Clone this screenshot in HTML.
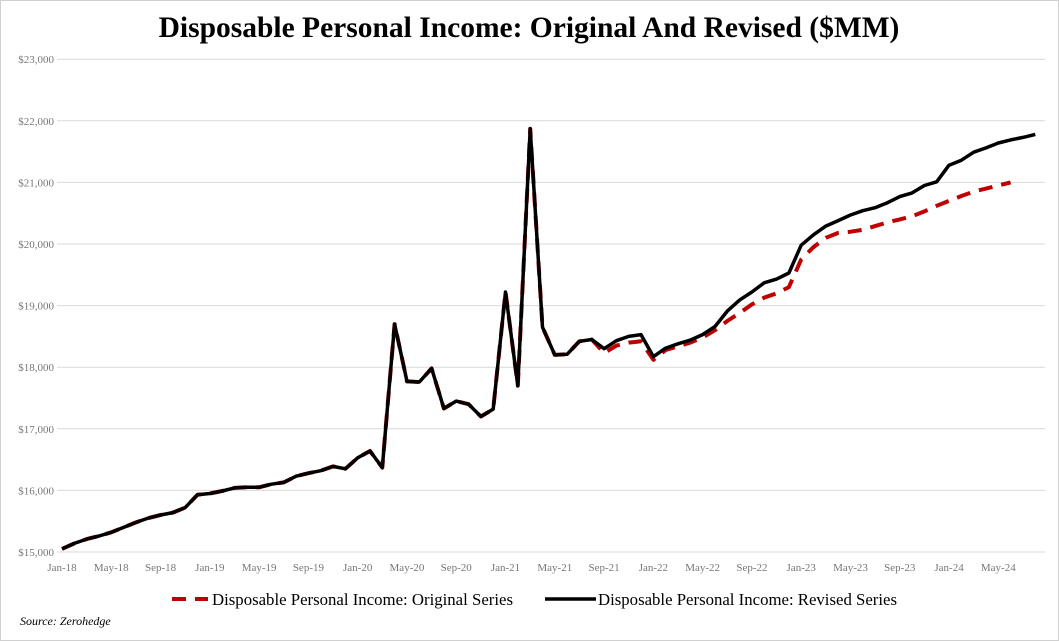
<!DOCTYPE html>
<html><head><meta charset="utf-8"><style>
body{margin:0;background:#fff;}
svg{display:block;font-family:"Liberation Serif",serif;}
</style></head><body>
<svg width="1059" height="641" viewBox="0 0 1059 641">
<rect x="0.5" y="0.5" width="1058" height="640" fill="#fff" stroke="#d0d0d0"/>
<text x="529" y="37" text-anchor="middle" font-size="29.5" font-weight="bold">Disposable Personal Income: Original And Revised ($MM)</text>
<g id="grid" stroke="#d9d9d9" stroke-width="1"></g>
<g id="ylab" font-size="11" fill="#777" text-anchor="end"></g>
<g id="xlab" font-size="11" fill="#777" text-anchor="middle"></g>
<polyline id="orig" fill="none" stroke="#c00000" stroke-width="4" stroke-dasharray="14,9" stroke-linejoin="round"/>
<polyline id="rev" fill="none" stroke="#000" stroke-width="3.5" stroke-linejoin="round"/>
<line x1="172" y1="599" x2="208" y2="599" stroke="#c00000" stroke-width="4" stroke-dasharray="14,9"/>
<text x="212" y="605" font-size="16.8" textLength="301" lengthAdjust="spacingAndGlyphs">Disposable Personal Income: Original Series</text>
<line x1="545" y1="599" x2="596" y2="599" stroke="#000" stroke-width="3.5"/>
<text x="598" y="605" font-size="16.8" textLength="299" lengthAdjust="spacingAndGlyphs">Disposable Personal Income: Revised Series</text>
<text x="20" y="625" font-size="12" font-style="italic">Source: Zerohedge</text>
</svg>
<script>
var ns="http://www.w3.org/2000/svg";
function Y(v){return 552-(v-15000)*0.0616;}
function X(m){return 62+12.32*m;}
var g=document.getElementById('grid'),yl=document.getElementById('ylab'),xl=document.getElementById('xlab');
for(var v=15000;v<=23000;v+=1000){var l=document.createElementNS(ns,'line');l.setAttribute('x1',57);l.setAttribute('x2',1045);l.setAttribute('y1',Y(v));l.setAttribute('y2',Y(v));g.appendChild(l);
var t=document.createElementNS(ns,'text');t.setAttribute('x',54);t.setAttribute('y',Y(v)+4);t.textContent='$'+(v/1000)+',000';yl.appendChild(t);}
var mn=['Jan','May','Sep'];
for(var m=0;m<=76;m+=4){var t=document.createElementNS(ns,'text');t.setAttribute('x',X(m));t.setAttribute('y',571);t.textContent=mn[(m%12)/4]+'-'+(18+Math.floor(m/12));xl.appendChild(t);}
var rev=[15050,15140,15210,15260,15320,15400,15480,15550,15600,15640,15720,15930,15950,15990,16040,16050,16050,16100,16130,16230,16280,16320,16390,16350,16530,16640,16370,18700,17770,17760,17980,17330,17450,17400,17200,17320,19220,17700,21870,18650,18200,18210,18420,18450,18300,18430,18500,18530,18170,18310,18380,18440,18530,18660,18910,19090,19220,19370,19430,19530,19980,20150,20290,20380,20470,20540,20590,20670,20770,20830,20950,21010,21280,21360,21490,21560,21640,21690,21730,21780];
var orig=rev.slice(0,44).concat([18230,18350,18400,18420,18120,18280,18340,18400,18480,18600,18750,18880,19020,19130,19200,19300,19750,19950,20100,20180,20200,20230,20290,20350,20400,20450,20530,20620,20700,20780,20850,20900,20950,21000]);
function pts(a){return a.map(function(v,i){return X(i).toFixed(1)+','+Y(v).toFixed(1);}).join(' ');}
document.getElementById('rev').setAttribute('points',pts(rev));
document.getElementById('orig').setAttribute('points',pts(orig));
</script>
</body></html>
